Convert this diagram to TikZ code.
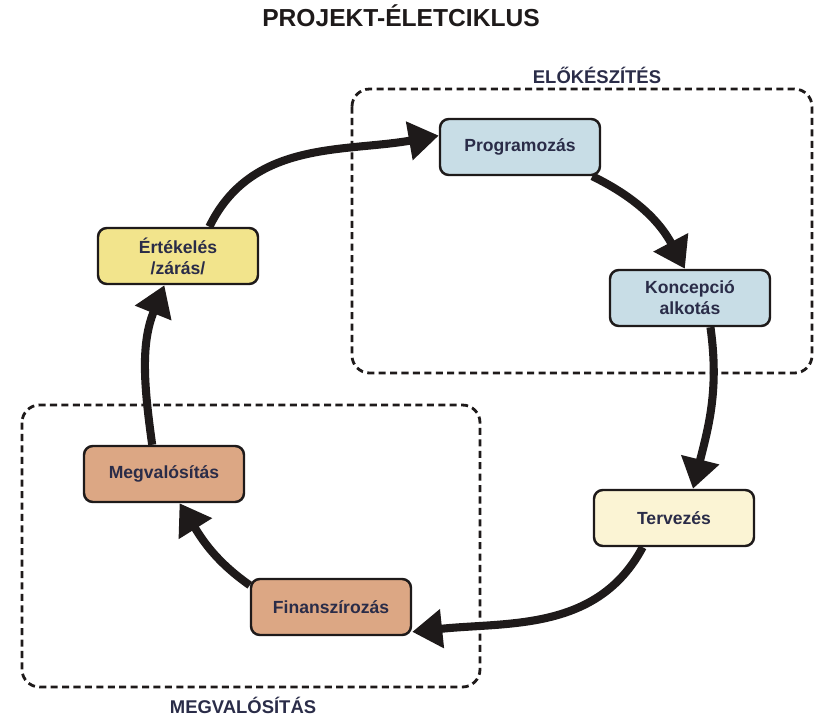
\documentclass[tikz,border=0pt]{standalone}
\usepackage{fontspec}
\setmainfont{Liberation Sans}
\usetikzlibrary{positioning, arrows.meta, calc}

\definecolor{navytext}{HTML}{2A2C48}
\definecolor{boxline}{HTML}{1E1A1A}
\definecolor{prepblue}{HTML}{C8DDE6}
\definecolor{plancream}{HTML}{FBF4D4}
\definecolor{evalyellow}{HTML}{F2E48C}
\definecolor{implan}{HTML}{DCA784}

\begin{document}
\begin{tikzpicture}[
    x=0.02cm, y=-0.02cm,
    phase/.style={
        rectangle,
        rounded corners=5pt,
        draw=boxline,
        line width=1.4pt,
        minimum width=3.2cm,
        minimum height=1.12cm,
        align=center,
        text=navytext,
        font=\fontsize{10}{12}\selectfont\bfseries
    },
    cyclearrow/.style={
        line width=4.6pt,
        draw=boxline,
        -{Triangle[length=6mm, width=7.5mm]}
    },
    phasegroup/.style={
        draw=boxline,
        line width=1.6pt,
        dash pattern=on 4pt off 2.5pt,
        rounded corners=10pt
    },
    grouplabel/.style={
        text=navytext,
        font=\fontsize{10.5}{12}\selectfont\bfseries
    }
]

    \useasboundingbox (0,0) rectangle (826,721);

    % -- Title --
    \node[font=\fontsize{14}{16}\selectfont\bfseries, text=boxline] (title) at (401,16) {PROJEKT-ÉLETCIKLUS};

    % -- Dashed groups --
    \draw[phasegroup] (352,89) rectangle (812,373);
    \draw[phasegroup] (22,405) rectangle (480,687);
    \node[grouplabel] (prep) at (597,75) {ELŐKÉSZÍTÉS};
    \node[grouplabel] (impl) at (243,705) {MEGVALÓSÍTÁS};

    % -- Phases --
    \node[phase, fill=prepblue] (prog) at (520,147) {Programozás};
    \node[phase, fill=prepblue] (konc) at (690,298) {Koncepció\\alkotás};
    \node[phase, fill=plancream] (terv) at (674,518) {Tervezés};
    \node[phase, fill=implan] (fin) at (331,607) {Finanszírozás};
    \node[phase, fill=implan] (megv) at (164,474) {Megvalósítás};
    \node[phase, fill=evalyellow] (ert) at (178,256) {Értékelés\\/zárás/};

    % Arrows round the cycle
    \draw[cyclearrow] (ert.43) to[out=64, in=190] (prog.172);
    \draw[cyclearrow] (prog.-22) to[out=-26, in=118] (konc.100);
    \draw[cyclearrow] (konc.-55) to[out=-82, in=76] (terv.57);
    \draw[cyclearrow] (terv.-137) to[out=-118, in=6] (fin.-17);
    \draw[cyclearrow] (fin.165) to[out=145, in=-58] (megv.-62);
    \draw[cyclearrow] (megv.112) to[out=98, in=-112] (ert.-115);

\end{tikzpicture}
\end{document}
